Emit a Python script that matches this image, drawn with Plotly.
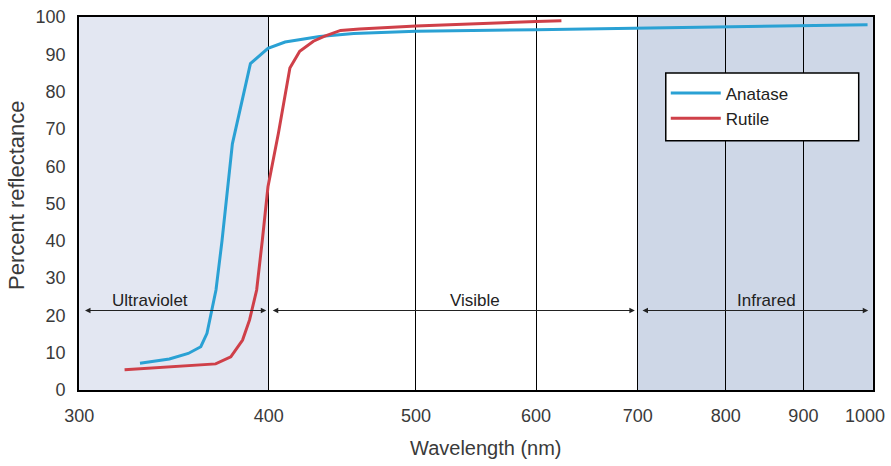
import numpy as np
import plotly.graph_objects as go

# ---- data ----
anatase_wl = [329, 344, 354, 360.8, 364.2, 366.7, 369.2, 372.6, 378.5, 389, 399.5,
              410, 432, 455, 500, 600, 700, 800, 900, 992]
anatase_r = [7.2, 8.3, 9.8, 11.6, 15.2, 21.5, 26.8, 40, 66, 87.5, 91.6,
             93.3, 94.8, 95.6, 96.2, 96.6, 97.0, 97.4, 97.7, 97.9]

rutile_wl = [321.4, 344, 369, 377.6, 384.4, 388.5, 390.2, 392.7, 396.1, 399.5, 405.9,
             413, 419.2, 424, 428, 435, 446, 459, 500, 600, 623.5]
rutile_r = [5.4, 6.1, 7.0, 8.9, 13.4, 18.8, 22.4, 26.8, 40.2, 54.5, 68.9,
            86.3, 90.8, 92.3, 93.5, 94.8, 96.4, 96.8, 97.6, 98.8, 99.0]

x_ticks = [300, 400, 500, 600, 700, 800, 900, 1000]
x_ticktext = ["300", "400", "500", "600", "700", "800", "900", ""]  # 1000 drawn at edge below
x_last_label = "1000"
y_ticks = list(range(0, 101, 10))

regions = ["Ultraviolet", "Visible", "Infrared"]
region_start = [302, 401.5, 703.5]
region_end = [398.5, 697, 993]
region_label_x = [334, 547, 851]
arrow_y = 21.3
label_y = 24.0

uv_band = (300, 400)
ir_band = (700, 1000)

BLUE = "#2aa1d4"
RED = "#cf4049"
UV_FILL = "#e3e7f2"
IR_FILL = "#ced7e7"
TXT = "#3a3a3a"
FONT = "Liberation Sans, Arial, Helvetica, sans-serif"
NARROW = "Liberation Sans Narrow, Arial Narrow, Liberation Sans, Arial, sans-serif"

fig = go.Figure()
fig.add_trace(go.Scatter(x=anatase_wl, y=anatase_r, mode="lines", name="Anatase",
                         line=dict(color=BLUE, width=3)))
fig.add_trace(go.Scatter(x=rutile_wl, y=rutile_r, mode="lines", name="Rutile",
                         line=dict(color=RED, width=3)))

# shaded bands
for (a, b), col in [(uv_band, UV_FILL), (ir_band, IR_FILL)]:
    fig.add_shape(type="rect", xref="x", yref="y", x0=a, x1=b, y0=0, y1=100,
                  fillcolor=col, line=dict(width=0), layer="below")

# legend box
fig.add_shape(type="rect", xref="paper", yref="paper", x0=0.739, x1=0.982,
              y0=0.668, y1=0.850, fillcolor="white",
              line=dict(color="black", width=1.5), layer="above")

# region arrows and labels
for name, s, e, lx in zip(regions, region_start, region_end, region_label_x):
    fig.add_annotation(x=np.log10(e), y=arrow_y, ax=np.log10(s), ay=arrow_y,
                       xref="x", yref="y", axref="x", ayref="y", text="",
                       showarrow=True, arrowside="end+start", arrowhead=2,
                       arrowsize=1.0, arrowwidth=1.1, arrowcolor="#222")
    fig.add_annotation(x=np.log10(lx), y=label_y, xref="x", yref="y", text=name,
                       showarrow=False, font=dict(family=NARROW, size=17, color="#222"),
                       yanchor="middle")

# last x tick label, kept inside the figure edge
fig.add_annotation(x=np.log10(x_ticks[-1]), y=-0.07, xref="x", yref="paper",
                   text=x_last_label, showarrow=False, xanchor="right", xshift=14,
                   yanchor="middle", font=dict(family=FONT, size=18, color=TXT))

# axis titles
fig.add_annotation(x=0.512, y=-0.156, xref="paper", yref="paper",
                   text="Wavelength (nm)", showarrow=False,
                   font=dict(family=FONT, size=20, color=TXT), yanchor="middle")
fig.add_annotation(x=-0.078, y=0.523, xref="paper", yref="paper",
                   text="Percent reflectance", showarrow=False, textangle=-90,
                   font=dict(family=FONT, size=22, color=TXT),
                   xanchor="center", yanchor="middle")

fig.update_xaxes(type="log", range=[np.log10(300) - 1e-4, np.log10(1000) + 1e-4],
                 tickvals=x_ticks, ticktext=x_ticktext,
                 showgrid=True, gridcolor="black", gridwidth=1.4,
                 showline=True, linecolor="black", linewidth=1.6, mirror=True,
                 ticks="outside", ticklen=9, tickcolor="rgba(0,0,0,0)",
                 tickfont=dict(family=FONT, size=18, color=TXT), zeroline=False,
                 automargin=False)
fig.update_yaxes(range=[0, 100], tickvals=y_ticks,
                 showgrid=False, showline=True, linecolor="black", linewidth=1.6,
                 mirror=True, ticks="outside", ticklen=8, tickcolor="rgba(0,0,0,0)",
                 tickfont=dict(family=FONT, size=18, color=TXT), zeroline=False,
                 automargin=False)

fig.update_layout(width=891, height=466,
                  margin=dict(l=79, r=18, t=17, b=76, autoexpand=False),
                  paper_bgcolor="white", plot_bgcolor="white",
                  showlegend=True,
                  legend=dict(x=0.739, y=0.843, xanchor="left", yanchor="top",
                              bgcolor="rgba(0,0,0,0)", borderwidth=0,
                              itemwidth=50,
                              font=dict(family=NARROW, size=17, color="#222")))

fig.write_html("out.html", config={"displayModeBar": False},
               post_script="document.body.style.margin='0';document.body.style.overflow='hidden';")
